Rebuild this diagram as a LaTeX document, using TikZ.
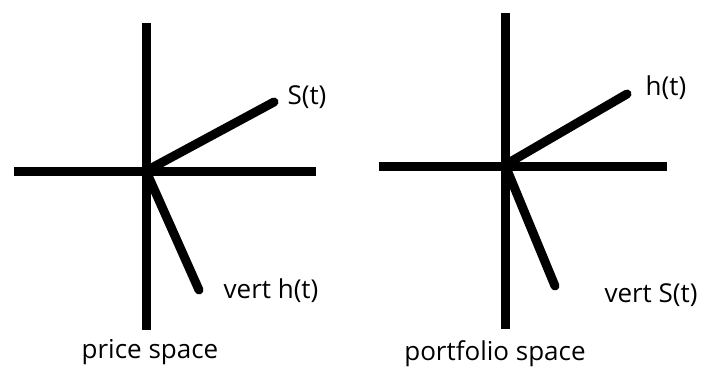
\documentclass[tikz,border=0pt]{standalone}
\usepackage{fontspec}
\setmainfont{Open Sans}
\begin{document}
\begin{tikzpicture}[x=1pt,y=-1pt,
  axis/.style={line width=9pt,line cap=round},
  lbl/.style={font=\fontsize{26}{30}\selectfont,inner sep=0pt,text=black}]
\useasboundingbox (0,0) rectangle (704,374);
% left diagram
\coordinate (lt) at (146,23);
\coordinate (lb) at (146,330);
\coordinate (ll) at (14,172);
\coordinate (lr) at (316,172);
\coordinate (lo) at (146,171);
\coordinate (ls) at (274,102);
\coordinate (lh) at (199,290);
\draw[axis,line cap=butt] (lt) -- (lb);
\draw[axis,line cap=butt] (ll) -- (lr);
\draw[axis] (lo) -- (ls);
\draw[axis] (lo) -- (lh);
\node[lbl] (st) at (307,97) {S(t)};
\node[lbl] (vh) at (271,291) {vert h(t)};
\node[lbl] (ps) at (150,352) {price space};
% right diagram
\coordinate (rt) at (505,13);
\coordinate (rb) at (505,329);
\coordinate (rl) at (379,167);
\coordinate (rr) at (667,167);
\coordinate (ro) at (505,165);
\coordinate (rh) at (627,94);
\coordinate (rs) at (555,286);
\draw[axis,line cap=butt] (rt) -- (rb);
\draw[axis,line cap=butt] (rl) -- (rr);
\draw[axis] (ro) -- (rh);
\draw[axis] (ro) -- (rs);
\node[lbl] (ht) at (666,88) {h(t)};
\node[lbl] (vs) at (651,295) {vert S(t)};
\node[lbl] (pf) at (495,354) {portfolio space};
\end{tikzpicture}
\end{document}
